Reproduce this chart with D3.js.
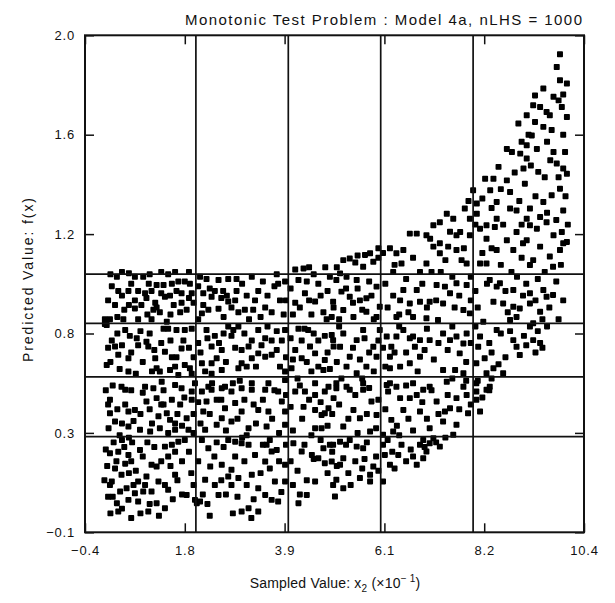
<!DOCTYPE html>
<html>
<head>
<meta charset="utf-8">
<script src="https://cdn.jsdelivr.net/npm/d3@7"></script>
<style>
  html, body { margin: 0; padding: 0; background: #fff; }
  svg text { font-family: "Liberation Sans", Arial, Helvetica, sans-serif; fill: #111; }
</style>
</head>
<body>
<svg id="chart" width="615" height="603"></svg>
<script>
// Sampled x2 (x10^-1) and predicted f(x), grouped by region of the plane
const samplesUpperLeft = [
  [0.29,0.98],[0.68,0.98],[0.86,0.98],[0.18,0.94],[0.32,0.92],[0.54,0.92],[0.75,0.92],[0.90,0.91],[1.04,0.92],[1.15,0.945],
  [1.30,0.945],[1.48,0.95],[1.62,0.96],[1.76,0.96],[1.87,0.95],[0.93,0.89],[1.12,0.87],[1.15,0.85],[1.33,0.895],[1.44,0.90],
  [1.69,0.91],[0.68,0.88],[0.68,0.846],[1.08,0.84],[1.22,0.83],[1.69,0.87],[1.66,0.83],[0.03,0.80],[0.14,0.80],[0.43,0.80],
  [0.75,0.80],[1.04,0.80],[1.37,0.79],[1.91,0.91],[1.95,0.87],
  [0.40,1.0],[0.55,0.995],[1.0,0.99],[1.25,1.0],[1.40,0.99],[1.55,1.0],[1.85,1.0],[0.15,0.99],
  [0.10,0.88],[0.25,0.86],[0.40,0.90],[0.45,0.84],[0.60,0.95],[0.82,0.86],[0.98,0.95],[1.25,0.91],[1.52,0.86],[1.58,0.92],
  [1.80,0.84],[1.85,0.89],[0.30,0.81],[0.95,0.82],[1.45,0.82],[0.55,0.86],
  [2.09,0.98],[2.23,0.97],[2.49,0.966],[2.70,0.97],[2.88,0.97],[3.21,0.98],[3.75,0.99],[3.78,0.95],[3.93,0.96],[2.16,0.91],
  [2.16,0.86],[2.34,0.895],[2.41,0.92],[2.59,0.92],[2.67,0.90],[2.70,0.875],[2.77,0.85],[2.88,0.92],[2.92,0.83],[3.06,0.84],
  [3.28,0.88],[3.24,0.84],[3.50,0.85],[3.64,0.83],[3.82,0.88],[2.27,0.84],[2.13,0.825],[2.49,0.845],
  [2.05,0.94],[2.30,0.93],[2.55,0.89],[2.85,0.88],[3.00,0.95],[3.10,0.90],[3.35,0.92],[3.45,0.96],[3.55,0.90],[3.70,0.94],
  [3.95,0.88],[3.90,0.82],[2.60,0.81],[3.15,0.80],[3.40,0.81],[2.05,0.80],
  [4.15,1.01],[4.33,1.015],[4.22,0.966],[4.40,0.96],[4.65,0.95],[4.90,0.98],[4.15,0.87],[4.36,0.91],[4.58,0.875],[4.76,0.83],
  [4.94,0.81],[4.83,0.80],[4.98,0.85],
  [4.05,0.93],[4.10,0.82],[4.25,0.85],[4.45,0.88],[4.50,0.82],[4.55,0.99],[4.70,0.90],[4.85,0.92],[4.45,1.02],[4.80,1.02],
  [0.03,0.78],[0.18,0.71],[0.25,0.685],[0.47,0.755],[0.57,0.73],[0.72,0.72],[0.93,0.705],[0.75,0.69],[0.97,0.685],[1.40,0.76],
  [1.58,0.755],[1.76,0.755],[1.91,0.76],[1.73,0.71],[1.69,0.677],[1.33,0.663],[1.48,0.64],[1.58,0.64],[0.32,0.65],[0.54,0.635],
  [0.07,0.607],[1.12,0.635],[1.15,0.593],[1.22,0.579],[1.44,0.586],[1.76,0.607],[1.87,0.593],[1.91,0.57],[1.62,0.565],[0.54,0.579],
  [0.07,0.776],
  [0.10,0.68],[0.15,0.62],[0.30,0.74],[0.40,0.69],[0.60,0.66],[0.80,0.75],[0.85,0.62],[1.00,0.74],[1.05,0.58],[1.25,0.70],
  [1.30,0.76],[1.45,0.71],[1.55,0.60],[1.85,0.68],[1.95,0.64],[0.35,0.59],[0.70,0.57],[1.10,0.67],
  [2.23,0.755],[2.41,0.73],[2.34,0.685],[2.56,0.67],[2.45,0.635],[2.13,0.614],[2.34,0.614],[2.70,0.77],[2.81,0.755],[2.92,0.77],
  [2.77,0.73],[2.99,0.67],[3.14,0.685],[3.21,0.71],[3.35,0.755],[3.42,0.69],[3.21,0.635],[2.99,0.614],[2.92,0.593],[3.50,0.642],
  [3.35,0.656],[3.64,0.65],[3.64,0.71],[3.86,0.71],[3.93,0.755],[3.82,0.60],[3.93,0.579],[2.56,0.586],[2.34,0.57],
  [2.05,0.70],[2.10,0.66],[2.25,0.72],[2.60,0.74],[2.65,0.62],[2.85,0.68],[3.05,0.74],[3.10,0.60],[3.30,0.60],[3.50,0.72],
  [3.55,0.77],[3.75,0.67],[3.75,0.75],[3.95,0.64],[2.50,0.70],[2.20,0.58],
  [4.22,0.76],[4.43,0.755],[4.29,0.71],[4.47,0.685],[4.65,0.71],[4.79,0.73],[4.94,0.734],[4.15,0.67],[4.29,0.635],[4.58,0.656],
  [4.79,0.628],[4.65,0.60],[4.98,0.685],[4.07,0.593],[4.76,0.586],
  [4.05,0.72],[4.10,0.63],[4.35,0.76],[4.40,0.62],[4.55,0.74],[4.85,0.66],[4.90,0.59],[4.50,0.58],
  [0.39,0.515],[0.90,0.515],[1.26,0.536],[1.55,0.522],[1.98,0.53],[2.27,0.515],[2.63,0.515],[3.21,0.53],[3.57,0.53],[3.93,0.543],
  [4.58,0.53],[4.87,0.515]
];

const samplesLowerLeft = [
  [0.14,0.46],[0.47,0.44],[0.68,0.417],[0.54,0.41],[0.93,0.453],[1.15,0.467],[1.30,0.44],[1.48,0.46],[1.66,0.44],[1.37,0.403],
  [1.19,0.39],[1.44,0.375],[1.55,0.36],[0.14,0.403],[0.11,0.34],[0.25,0.368],[0.54,0.347],[0.79,0.333],[1.01,0.326],[1.22,0.34],
  [1.55,0.333],[1.80,0.382],[1.84,0.333],[1.91,0.495],[1.91,0.46],[1.69,0.509],[1.08,0.509],[0.47,0.502],
  [0.05,0.50],[0.10,0.44],[0.20,0.52],[0.30,0.42],[0.35,0.31],[0.60,0.50],[0.65,0.37],[0.80,0.40],[0.85,0.49],[1.00,0.42],
  [1.05,0.36],[1.30,0.50],[1.40,0.32],[1.60,0.40],[1.70,0.35],[1.75,0.47],[1.95,0.40],[0.40,0.36],[1.25,0.44],[1.95,0.32],
  [2.13,0.495],[2.34,0.502],[2.56,0.509],[2.77,0.495],[2.99,0.509],[3.21,0.502],[3.50,0.502],[3.78,0.495],[2.23,0.453],[2.45,0.46],
  [2.63,0.424],[2.85,0.446],[2.99,0.41],[3.35,0.417],[3.57,0.41],[3.86,0.453],[2.56,0.382],[2.77,0.368],[2.20,0.333],[2.45,0.354],
  [3.14,0.34],[3.53,0.347],[3.93,0.41],[3.93,0.354],[2.16,0.41],
  [2.05,0.45],[2.10,0.36],[2.30,0.40],[2.35,0.53],[2.55,0.46],[2.65,0.33],[2.80,0.53],[2.90,0.38],[3.05,0.46],[3.10,0.31],
  [3.25,0.44],[3.30,0.36],[3.45,0.46],[3.65,0.38],[3.70,0.50],[3.80,0.32],[3.95,0.48],[2.95,0.54],
  [4.36,0.495],[4.58,0.48],[4.79,0.495],[4.33,0.43],[4.58,0.417],[4.72,0.396],[4.79,0.403],[4.87,0.424],[4.58,0.34],[4.72,0.34],
  [4.15,0.495],[4.98,0.467],
  [4.05,0.43],[4.10,0.33],[4.25,0.52],[4.30,0.38],[4.45,0.46],[4.50,0.31],[4.70,0.45],[4.85,0.35],[4.95,0.40],[4.20,0.55],
  [0.40,0.29],[0.55,0.30],[0.62,0.28],[0.14,0.234],[0.32,0.24],[0.54,0.227],[0.79,0.248],[1.33,0.262],[1.48,0.27],[1.62,0.283],
  [1.76,0.29],[1.55,0.24],[1.40,0.22],[1.04,0.185],[1.15,0.178],[0.47,0.19],[0.39,0.143],[0.18,0.115],[0.14,0.10],[0.36,0.072],
  [0.50,0.086],[0.65,0.10],[0.75,0.115],[0.90,0.10],[0.93,0.136],[1.19,0.115],[1.33,0.10],[1.55,0.143],[1.80,0.058],[0.68,0.065],
  [0.75,0.03],[0.54,0.037],[0.29,0.023],[0.32,-0.012],[0.97,-0.012],[1.15,0.023],[1.33,0.002],[1.98,0.037],[2.02,0.023],[0.86,0.072],
  [0.25,0.17],[1.04,0.072],
  [0.05,0.25],[0.08,0.18],[0.10,0.05],[0.02,0.12],[0.22,0.28],[0.28,0.20],[0.45,0.26],[0.60,0.20],[0.70,0.16],[0.85,0.22],
  [0.95,0.28],[1.10,0.26],[1.25,0.20],[1.45,0.18],[1.60,0.12],[1.70,0.20],[1.85,0.24],[1.90,0.15],[1.70,0.06],[1.50,0.04],
  [1.20,-0.03],[0.80,-0.02],[0.60,-0.04],[0.40,0.00],[0.20,0.05],[0.15,-0.02],[1.00,0.02],[1.40,0.08],[1.95,0.10],[0.55,0.15],
  [2.13,0.29],[2.27,0.255],[2.31,0.178],[2.56,0.185],[2.77,0.164],[2.70,0.136],[2.92,0.129],[3.21,0.143],[3.28,0.227],[3.50,0.199],
  [3.64,0.241],[3.75,0.248],[3.53,0.27],[3.14,0.27],[2.70,0.29],[2.85,0.283],[2.99,0.276],[3.93,0.185],[2.20,0.122],[2.41,0.10],
  [2.49,0.058],[2.77,0.10],[3.35,0.086],[3.50,0.058],[3.64,0.037],[3.78,0.03],[2.99,-0.012],[3.14,0.002],[3.35,-0.012],[3.71,0.115],
  [3.93,0.115],[2.09,0.03],
  [2.05,0.20],[2.15,0.06],[2.25,0.02],[2.40,0.22],[2.45,0.28],[2.60,0.26],[2.65,0.06],[2.85,0.22],[2.90,0.05],[3.05,0.20],
  [3.10,0.10],[3.25,0.04],[3.40,0.15],[3.45,0.27],[3.60,0.17],[3.80,0.20],[3.85,0.07],[3.95,0.27],[2.30,-0.03],[2.55,0.12],
  [3.00,0.30],[3.60,0.29],[2.80,-0.02],[3.20,-0.04],
  [4.11,0.276],[4.29,0.241],[4.51,0.227],[4.65,0.213],[4.79,0.192],[4.94,0.199],[4.58,0.115],[4.22,0.023],[4.40,0.058],[4.90,0.27],
  [4.76,0.255],
  [4.05,0.20],[4.10,0.10],[4.20,0.16],[4.35,0.27],[4.40,0.12],[4.55,0.21],[4.70,0.29],[4.85,0.15],[4.95,0.24],[4.25,0.06]
];

const samplesMiddleRight = [
  [5.19,1.05],[5.33,1.057],[5.66,1.072],[5.77,1.079],[5.84,1.043],[5.62,1.022],[5.12,0.994],[6.20,1.10],[6.34,1.079],[6.49,1.093],
  [6.45,1.036],[6.27,1.0],[6.99,1.036],[7.14,1.107],[7.28,1.079],[7.46,1.107],[7.64,1.093],[7.75,1.05],[7.86,1.036],[6.85,1.0],
  [8.15,1.036],[8.29,1.036],[8.51,1.093],[8.87,1.093],[9.08,1.121],[9.30,1.05],[9.45,1.107],[9.66,1.065],[9.88,1.093],[9.95,1.121],
  [9.73,1.022],[9.23,1.029],[8.83,1.0],[7.28,1.121],[5.50,1.07],[5.95,1.10],
  [5.04,0.966],[5.26,0.98],[5.48,0.966],[5.15,0.917],[5.33,0.895],[5.55,0.88],[5.69,0.889],[4.97,0.874],[5.19,0.839],[5.41,0.81],
  [5.69,0.832],[5.91,0.81],[5.91,0.938],[5.98,0.853],[6.27,0.90],[6.42,0.88],[6.49,0.924],[6.63,0.867],[6.78,0.924],[6.85,0.874],
  [7.06,0.874],[7.21,0.945],[7.39,0.938],[7.50,0.91],[7.64,0.952],[7.86,0.945],[7.35,0.867],[7.79,0.839],[7.93,0.825],[6.70,0.81],
  [6.99,0.804],[6.34,0.81],[7.24,0.797],[8.36,0.966],[8.51,0.938],[8.58,0.952],[8.87,0.924],[9.08,0.90],[9.23,0.91],[9.52,0.924],
  [9.59,0.895],[9.73,0.903],[8.44,0.874],[8.65,0.867],[8.87,0.853],[9.01,0.846],[9.23,0.867],[8.94,0.81],[8.80,0.797],[9.30,0.783],
  [9.45,0.832],[8.22,0.79],
  [5.05,1.02],[5.25,0.93],[5.40,0.87],[5.50,0.93],[5.60,0.84],[5.75,0.96],[5.80,0.90],[5.95,1.06],[5.45,1.04],[5.85,0.80],
  [5.10,0.80],
  [6.10,0.95],[6.15,0.85],[6.30,1.03],[6.55,0.97],[6.60,0.83],[6.70,1.06],[6.90,0.95],[7.00,0.85],[7.10,1.0],[7.20,0.88],
  [7.40,1.05],[7.55,0.98],[7.60,0.85],[7.70,0.90],[7.95,0.98],[7.95,0.88],[6.05,1.08],[6.40,0.82],[7.30,1.00],[7.80,1.10],
  [8.05,0.92],[8.10,0.85],[8.20,1.08],[8.30,0.95],[8.40,1.10],[8.60,1.03],[8.70,0.92],[8.75,0.83],[8.95,0.98],[9.05,1.06],
  [9.15,0.95],[9.35,0.88],[9.40,0.97],[9.55,1.00],[9.65,0.85],[9.80,0.96],[9.90,1.03],[9.95,0.88],[9.50,0.80],[9.85,0.80],
  [4.97,0.712],[5.19,0.74],[5.12,0.684],[5.33,0.642],[5.26,0.60],[5.48,0.712],[5.62,0.755],[5.84,0.684],[5.91,0.642],[5.69,0.60],
  [5.48,0.572],[5.98,0.755],[6.13,0.727],[6.23,0.684],[6.20,0.642],[6.34,0.727],[6.49,0.755],[6.63,0.72],[6.74,0.684],[6.70,0.727],
  [6.85,0.712],[7.06,0.712],[6.85,0.642],[6.63,0.614],[6.42,0.60],[6.20,0.593],[7.35,0.74],[7.50,0.712],[7.64,0.727],[7.79,0.698],
  [7.71,0.656],[7.86,0.74],[7.35,0.586],[7.61,0.586],[7.79,0.572],[8.15,0.727],[8.11,0.684],[8.25,0.635],[8.07,0.614],[8.51,0.755],
  [8.87,0.712],[8.94,0.684],[9.01,0.649],[9.30,0.712],[9.23,0.769],[8.44,0.593],[8.65,0.572],[8.29,0.572],
  [5.05,0.62],[5.10,0.77],[5.40,0.68],[5.55,0.63],[5.65,0.72],[5.75,0.66],[5.95,0.71],[5.85,0.58],
  [6.05,0.68],[6.10,0.60],[6.30,0.66],[6.40,0.77],[6.55,0.66],[6.95,0.67],[7.00,0.76],[7.15,0.63],[7.25,0.70],[7.45,0.67],
  [7.55,0.77],[7.85,0.62],[7.95,0.70],[6.80,0.58],
  [8.05,0.77],[8.35,0.70],[8.40,0.66],[8.60,0.74],[8.70,0.64],[8.80,0.75],[9.10,0.73],[9.15,0.69],[9.40,0.75],[9.45,0.70],
  [9.60,0.77],[8.55,0.61],[9.35,0.66],[9.50,0.68],
  [5.04,0.53],[5.26,0.515],[5.62,0.53],[6.13,0.522],[6.34,0.515],[6.70,0.53],[7.06,0.515],[7.43,0.536],[7.79,0.515],[8.07,0.53],
  [8.36,0.515]
];

const samplesLowerRight = [
  [5.04,0.509],[5.33,0.502],[5.62,0.502],[5.80,0.453],[5.41,0.417],[5.55,0.382],[5.19,0.347],[5.77,0.326],[5.91,0.396],[6.16,0.495],
  [6.42,0.467],[6.63,0.467],[6.78,0.48],[6.92,0.502],[6.49,0.417],[6.85,0.41],[7.21,0.453],[7.39,0.41],[7.50,0.424],[7.64,0.467],
  [7.86,0.48],[7.35,0.368],[7.64,0.354],[6.23,0.375],[6.27,0.326],[7.06,0.34],[8.07,0.495],[8.29,0.502],[8.07,0.46],[7.89,0.403],
  [7.57,0.312],[6.05,0.312],
  [5.10,0.44],[5.15,0.55],[5.30,0.38],[5.45,0.48],[5.50,0.32],[5.70,0.40],[5.75,0.51],[5.95,0.46],[5.90,0.34],[5.60,0.55],
  [6.10,0.42],[6.20,0.53],[6.35,0.35],[6.55,0.52],[6.60,0.38],[6.70,0.33],[6.90,0.45],[7.00,0.38],[7.10,0.50],[7.25,0.40],
  [7.45,0.48],[7.55,0.55],[7.70,0.42],[7.85,0.54],[7.95,0.44],[6.40,0.31],
  [8.10,0.54],[8.20,0.47],[8.15,0.41],[8.40,0.55],[8.35,0.50],
  [4.97,0.27],[5.12,0.283],[5.33,0.29],[5.48,0.262],[5.62,0.255],[5.19,0.213],[5.12,0.185],[5.84,0.178],[5.77,0.143],[5.77,0.115],
  [5.55,0.129],[5.04,0.122],[4.97,0.10],[5.19,0.086],[5.01,0.051],[6.05,0.27],[6.09,0.227],[6.20,0.185],[6.05,0.115],[6.38,0.227],
  [6.78,0.185],[6.92,0.213],[6.85,0.27],[7.06,0.276],[6.99,0.241],[7.28,0.262],[7.14,0.297],[6.92,0.29],
  [5.05,0.18],[5.25,0.27],[5.30,0.15],[5.45,0.20],[5.65,0.21],[5.70,0.28],[5.90,0.22],[5.95,0.16],[5.35,0.10],[5.60,0.17],
  [6.15,0.29],[6.25,0.24],[6.45,0.27],[6.55,0.20],[6.65,0.25],[6.95,0.26],[7.20,0.28],[6.30,0.17],[6.70,0.22],[7.40,0.30]
];

const samplesUpperRight = [
  [9.88,1.92],[9.81,1.866],[9.88,1.81],[10.03,1.796],[9.52,1.775],[9.34,1.746],[9.74,1.74],[9.85,1.725],[9.30,1.704],[9.45,1.697],
  [9.59,1.676],[9.66,1.662],[9.92,1.697],[10.03,1.655],[9.16,1.662],[8.98,1.627],[9.34,1.634],[9.52,1.613],[9.27,1.577],[9.05,1.55],
  [9.16,1.535],[9.38,1.52],[8.73,1.52],[8.84,1.507],[9.02,1.50],[9.74,1.507],[9.99,1.507],[9.16,1.479],[9.67,1.472],[9.81,1.458],
  [8.55,1.444],[9.09,1.437],[9.41,1.423],[9.95,1.437],[10.03,1.415],[8.26,1.394],[8.44,1.394],[8.73,1.387],[9.12,1.373],[9.88,1.352],
  [8.37,1.345],[8.00,1.345],[8.80,1.338],[9.70,1.324],[8.51,1.296],[8.80,1.268],[8.94,1.26],[9.52,1.296],[9.23,1.268],[7.82,1.268],
  [8.08,1.289],[9.95,1.26],[7.43,1.246],[7.28,1.21],[7.57,1.225],[7.93,1.225],[8.08,1.246],[8.51,1.225],[9.45,1.232],[9.16,1.225],
  [9.23,1.197],[9.38,1.183],[9.59,1.21],[7.14,1.197],[7.72,1.169],[7.64,1.155],[7.93,1.155],[8.15,1.183],[8.29,1.197],[8.47,1.19],
  [6.63,1.162],[6.78,1.162],[6.99,1.155],[7.07,1.14],[8.94,1.169],[9.74,1.155],[9.92,1.169],[8.29,1.14],[8.73,1.134],[9.16,1.134],
  [10.03,1.127],
  [8.60,1.35],[8.90,1.42],[9.25,1.45],[9.60,1.55],[9.70,1.60],[9.95,1.58],[9.55,1.40],[9.85,1.40],[8.65,1.20],[9.00,1.30],
  [9.35,1.32],[7.50,1.17],[8.05,1.20],[8.40,1.27],[9.60,1.25],[9.80,1.22],[10.00,1.32],[9.20,1.58],[9.95,1.75],[8.20,1.31],
  [7.90,1.30],[9.05,1.20],[10.05,1.20]
];

// Axis ticks: evenly spaced, labelled to one decimal
const xTickValues = [-0.4, 1.76, 3.92, 6.08, 8.24, 10.4];
const xTickLabels = ["\u22120.4", "1.8", "3.9", "6.1", "8.2", "10.4"];
const yTickValues = [-0.1, 0.32, 0.74, 1.16, 1.58, 2.0];
const yTickLabels = ["\u22120.1", "0.3", "0.8", "1.2", "1.6", "2.0"];

// Quantile partition lines
const xPartitions = [2, 4, 6, 8];
const yPartitions = [0.304, 0.557, 0.783, 0.991];

const svg = d3.select("#chart");
const plot = { left: 85, right: 584, top: 35.3, bottom: 532.3 };

const x = d3.scaleLinear().domain([-0.4, 10.4]).range([plot.left, plot.right]);
const y = d3.scaleLinear().domain([-0.1, 2.0]).range([plot.bottom, plot.top]);

const allSamples = [].concat(samplesUpperLeft, samplesLowerLeft, samplesMiddleRight, samplesLowerRight, samplesUpperRight);

// Points
const marker = d3.symbol().type(d3.symbolSquare).size(19);
svg.append("g")
  .selectAll("path")
  .data(allSamples)
  .join("path")
  .attr("transform", d => `translate(${x(d[0])},${y(d[1])})`)
  .attr("d", marker)
  .attr("fill", "#000")
  .attr("stroke", "#000")
  .attr("stroke-width", 1.6)
  .attr("stroke-linejoin", "round");

// Partition lines
const grid = svg.append("g").attr("stroke", "#111").attr("stroke-width", 1.7);
grid.selectAll("line.v").data(xPartitions).join("line")
  .attr("class", "v")
  .attr("x1", d => x(d)).attr("x2", d => x(d))
  .attr("y1", plot.top).attr("y2", plot.bottom);
grid.selectAll("line.h").data(yPartitions).join("line")
  .attr("class", "h")
  .attr("x1", plot.left).attr("x2", plot.right)
  .attr("y1", d => y(d)).attr("y2", d => y(d));

// Axes with inward ticks on all four sides
const tickLen = 9;
const bottomAxis = d3.axisBottom(x).tickValues(xTickValues).tickSizeInner(-tickLen).tickSizeOuter(0)
  .tickFormat((d, i) => xTickLabels[i]).tickPadding(13.5);
const topAxis = d3.axisTop(x).tickValues(xTickValues).tickSizeInner(-tickLen).tickSizeOuter(0).tickFormat("");
const leftAxis = d3.axisLeft(y).tickValues(yTickValues).tickSizeInner(-tickLen).tickSizeOuter(0)
  .tickFormat((d, i) => yTickLabels[i]).tickPadding(10);
const rightAxis = d3.axisRight(y).tickValues(yTickValues).tickSizeInner(-tickLen).tickSizeOuter(0).tickFormat("");

function styleAxis(g) {
  g.select(".domain").remove();
  g.selectAll(".tick line").attr("stroke", "#111").attr("stroke-width", 1.5);
  g.selectAll(".tick text").attr("font-size", 13).attr("fill", "#111")
    .attr("letter-spacing", 0.8)
    .attr("font-family", "'Liberation Sans', Arial, sans-serif");
}

svg.append("g").attr("transform", `translate(0,${plot.bottom})`).call(bottomAxis).call(styleAxis);
svg.append("g").attr("transform", `translate(0,${plot.top})`).call(topAxis).call(styleAxis);
svg.append("g").attr("transform", `translate(${plot.left},0)`).call(leftAxis).call(styleAxis);
svg.append("g").attr("transform", `translate(${plot.right},0)`).call(rightAxis).call(styleAxis);

// Frame
svg.append("rect")
  .attr("x", plot.left).attr("y", plot.top)
  .attr("width", plot.right - plot.left).attr("height", plot.bottom - plot.top)
  .attr("fill", "none").attr("stroke", "#111").attr("stroke-width", 2);

// Title
svg.append("text")
  .attr("x", 582).attr("y", 25)
  .attr("text-anchor", "end")
  .attr("font-size", 15)
  .attr("textLength", 397)
  .attr("lengthAdjust", "spacing")
  .text("Monotonic Test Problem : Model 4a, nLHS = 1000");

// X axis label
const xl = svg.append("text")
  .attr("x", 335).attr("y", 588)
  .attr("text-anchor", "middle")
  .attr("font-size", 14)
  .attr("letter-spacing", 0.2);
xl.append("tspan").text("Sampled Value: x");
xl.append("tspan").attr("font-size", 10).attr("dy", 4).text("2");
xl.append("tspan").attr("dy", -4).text(" (\u00D710");
xl.append("tspan").attr("font-size", 10).attr("dy", -6).text("\u2212 1");
xl.append("tspan").attr("dy", 6).text(")");

// Y axis label
svg.append("text")
  .attr("transform", "translate(33,280) rotate(-90)")
  .attr("text-anchor", "middle")
  .attr("font-size", 14)
  .attr("textLength", 164)
  .attr("lengthAdjust", "spacing")
  .text("Predicted Value: f(x)");
</script>
</body>
</html>
